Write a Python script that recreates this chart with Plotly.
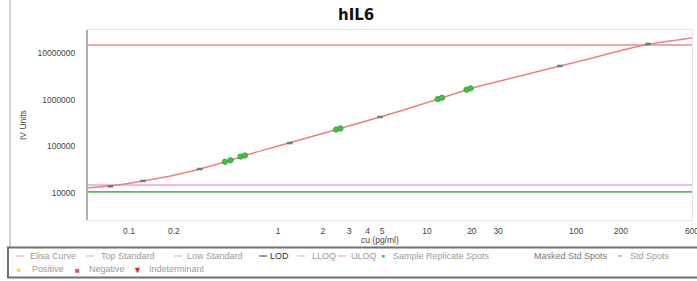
import plotly.graph_objects as go

# ---------------- data ----------------
curve_conc = [0.0522, 0.0782, 0.124, 0.204, 0.299, 0.461, 0.648, 1.031, 1.64, 2.607, 4.835,
              7.689, 12.22, 19.43, 30.9, 49.1, 78.1, 145, 269, 428, 600]
curve_iv = [12860, 14550, 18160, 24420, 32830, 48660, 68780, 104500, 158900, 241700, 425800,
            664000, 1060000, 1695000, 2515000, 3640000, 5270000, 8620000, 14100000, 18100000, 21000000]

std_conc = [0.075, 0.124, 0.299, 1.20, 4.84, 78, 304]
std_iv = [14000, 18200, 32800, 118000, 426000, 5270000, 15600000]

sample_conc = [0.44, 0.48, 0.56, 0.60, 2.45, 2.62, 11.8, 12.6, 18.4, 19.6]
sample_iv = [46800, 50500, 60500, 64000, 229000, 243000, 1030000, 1100000, 1640000, 1750000]

top_standard = 14800000
low_standard = 14900
lod = 10600

x_tickvals = [0.1, 0.2, 1, 2, 3, 4, 5, 10, 20, 30, 100, 200, 600]
x_ticktext = ["0.1", "0.2", "1", "2", "3", "4", "5", "10", "20", "30", "100", "200", "600"]
y_tickvals = [10000, 100000, 1000000, 10000000]
y_ticktext = ["10000", "100000", "1000000", "10000000"]

title_text = "hIL6"
x_title = "cu (pg/ml)"
y_title = "IV Units"

legend_row1 = ["Elisa Curve", "Top Standard", "Low Standard", "LOD", "LLOQ", "ULOQ",
               "Sample Replicate Spots", "Masked Std Spots", "Std Spots"]
legend_row2 = ["Positive", "Negative", "Indeterminant"]

# ---------------- figure ----------------
W, H = 697, 281
ML, MR, MT, MB = 87, 5, 30, 61
PW, PH = W - ML - MR, H - MT - MB


def px(x):
    return (x - ML) / PW


def py(y):
    return (MT + PH - y) / PH


fig = go.Figure()
xmin, xmax = 0.0522, 600

for val, col in [(top_standard, "#ee8a8a"), (low_standard, "#e9a6d9"), (lod, "#5fb85f")]:
    fig.add_trace(go.Scatter(x=[xmin, xmax], y=[val, val], mode="lines",
                             line=dict(color=col, width=1.6), showlegend=False, hoverinfo="skip"))

fig.add_trace(go.Scatter(x=curve_conc, y=curve_iv, mode="lines", line=dict(color="#ef7f7f", width=1.5, shape="spline"),
                         showlegend=False))
fig.add_trace(go.Scatter(x=std_conc, y=std_iv, mode="markers",
                         marker=dict(color="#7f7f7f", size=4, symbol="line-ew", line=dict(color="#777", width=2.5)),
                         showlegend=False))
fig.add_trace(go.Scatter(x=sample_conc, y=sample_iv, mode="markers",
                         marker=dict(color="#3ec43e", size=5.5, line=dict(color="#3a8a3a", width=0.6)),
                         showlegend=False))

font_axis = dict(family="Liberation Sans, Arial, sans-serif", size=8.5, color="#444")

fig.update_xaxes(type="log", range=[-1.282, 2.7783], tickvals=x_tickvals, ticktext=x_ticktext,
                 showgrid=False, zeroline=False, showline=True, linecolor="#e4e4e4", linewidth=1, mirror=True,
                 ticks="", tickfont=font_axis, ticklabelstandoff=3, automargin=False,
                 ticklabeloverflow="allow")
fig.update_yaxes(type="log", range=[3.424, 7.4925], tickvals=y_tickvals, ticktext=y_ticktext,
                 showgrid=False, zeroline=False, showline=True, linecolor="#e4e4e4", linewidth=1, mirror=True,
                 ticks="", tickfont=font_axis, ticklabelstandoff=9, automargin=False)

shapes = []
annotations = []

# left axis line (darker)
shapes.append(dict(type="line", xref="paper", yref="paper", x0=0, x1=0, y0=0, y1=1,
                   line=dict(color="#b0b0b0", width=2)))
# page border line on the left
shapes.append(dict(type="line", xref="paper", yref="paper", x0=px(10), x1=px(10), y0=py(0), y1=py(247),
                   line=dict(color="#cfcfcf", width=2)))
# legend box
shapes.append(dict(type="rect", xref="paper", yref="paper", x0=px(8), x1=px(702), y0=py(247.5), y1=py(277.5),
                   line=dict(color="#6f6f6f", width=2)))

# title & axis titles
annotations.append(dict(text="<b>" + title_text + "</b>", xref="paper", yref="paper", x=px(356), y=py(15),
                        showarrow=False, xanchor="center", yanchor="middle",
                        font=dict(family="DejaVu Sans, Arial, sans-serif", size=15, color="#111")))
annotations.append(dict(text=x_title, xref="paper", yref="paper", x=px(380), y=py(239.5),
                        showarrow=False, xanchor="center", yanchor="middle", font=font_axis))
annotations.append(dict(text=y_title, xref="paper", yref="paper", x=px(23), y=py(125), textangle=-90,
                        showarrow=False, xanchor="center", yanchor="middle", font=font_axis))

# legend drawing
leg_font = dict(family="Liberation Sans, Arial, sans-serif", size=9, color="#9a9a9a")
row1_y, row2_y = 256, 269
row1_sym = [("line", "#e8b6b6"), ("line", "#c8c8c8"), ("line", "#c8c8c8"), ("line", "#555"),
            ("line", "#c8c8c8"), ("line", "#e9a6d9"), ("dot", "#3ec43e"), (None, None), ("dash", "#999")]
row1_symx = [16, 86, 174, 259, 297, 338, 383, None, 620]
row1_textx = [28, 99, 185, 268, 310, 349, 391, 532, 628]
row1_colors = ["#9a9a9a", "#9a9a9a", "#9a9a9a", "#333", "#9a9a9a", "#9a9a9a", "#9a9a9a", "#777", "#9a9a9a"]
for name, (kind, col), sx, tx, tc in zip(legend_row1, row1_sym, row1_symx, row1_textx, row1_colors):
    if kind == "line":
        shapes.append(dict(type="line", xref="paper", yref="paper", x0=px(sx), x1=px(sx + 8),
                           y0=py(row1_y), y1=py(row1_y), line=dict(color=col, width=1.2)))
    elif kind == "dash":
        shapes.append(dict(type="line", xref="paper", yref="paper", x0=px(sx - 2), x1=px(sx + 2),
                           y0=py(row1_y), y1=py(row1_y), line=dict(color=col, width=1.2)))
    elif kind == "dot":
        annotations.append(dict(text="●", xref="paper", yref="paper", x=px(sx), y=py(row1_y),
                                showarrow=False, xanchor="center", yanchor="middle",
                                font=dict(size=7, color=col)))
    annotations.append(dict(text=name, xref="paper", yref="paper", x=px(tx), y=py(row1_y),
                            showarrow=False, xanchor="left", yanchor="middle",
                            font=dict(family=leg_font["family"], size=9, color=tc)))

row2_sym = [("●", "#f2e040", 9), ("■", "#ee4b7a", 8), ("▼", "#e8231f", 9)]
row2_symx = [18, 77, 137]
row2_textx = [30, 87, 147]
for name, (ch, col, sz), sx, tx in zip(legend_row2, row2_sym, row2_symx, row2_textx):
    annotations.append(dict(text=ch, xref="paper", yref="paper", x=px(sx), y=py(row2_y),
                            showarrow=False, xanchor="center", yanchor="middle",
                            font=dict(size=sz, color=col)))
    annotations.append(dict(text=name, xref="paper", yref="paper", x=px(tx), y=py(row2_y),
                            showarrow=False, xanchor="left", yanchor="middle", font=leg_font))

fig.update_layout(width=W, height=H, margin=dict(l=ML, r=MR, t=MT, b=MB, pad=0),
                  paper_bgcolor="white", plot_bgcolor="white", showlegend=False,
                  shapes=shapes, annotations=annotations)

fig.write_html("out.html", config={"displayModeBar": False},
               post_script="document.body.style.margin='0';document.body.style.padding='0';")
